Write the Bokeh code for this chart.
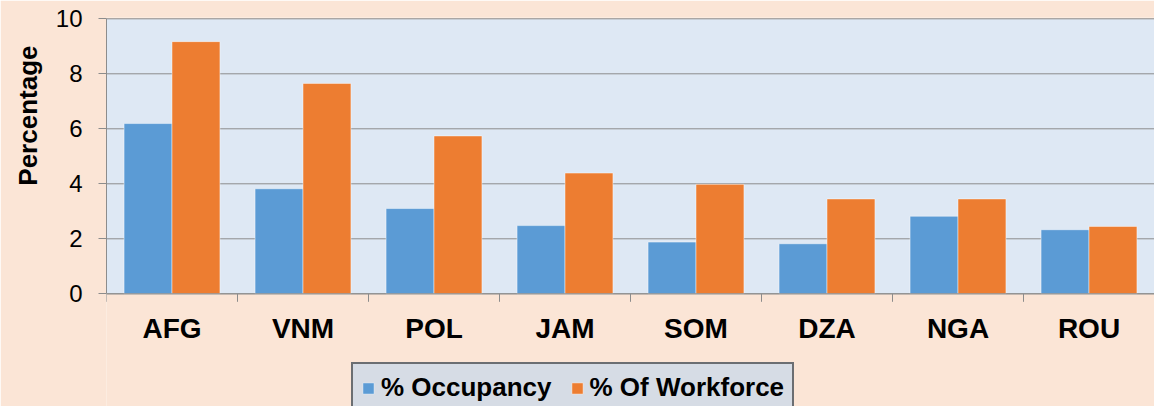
import math
from bokeh.plotting import figure
from bokeh.models import (Range1d, LinearAxis, FixedTicker, ColumnDataSource, Legend, LegendItem,
                          Span, Title)
from bokeh.transform import dodge
from bokeh.core.properties import value
from bokeh.embed import file_html
from bokeh.resources import INLINE

countries = ["AFG", "VNM", "POL", "JAM", "SOM", "DZA", "NGA", "ROU"]
occupancy = [6.19, 3.82, 3.10, 2.48, 1.88, 1.82, 2.82, 2.33]
workforce = [9.17, 7.65, 5.74, 4.39, 3.98, 3.45, 3.45, 2.45]
y_ticks = [0, 2, 4, 6, 8, 10]
series_names = ["% Occupancy", "% Of Workforce"]
y_label = "Percentage"

BG = "#FBE5D6"
PLOT_BG = "#DEE8F4"
BLUE = "#5B9BD5"
ORANGE = "#ED7D31"
GRAY = "#8C8C8C"
FONT = "Liberation Sans"

n = len(countries)
centers = [i + 0.5 for i in range(n)]
bounds = list(range(n + 1))
ymax = y_ticks[-1]
src = ColumnDataSource(dict(c=countries, x=centers, occ=occupancy, wf=workforce))

W, H = 1154, 406
FRAME_TOP = 17
Y0_PX, Y10_PX = 293.3, 18.3
ppu = (Y0_PX - Y10_PX) / ymax
y_start = -(H - Y0_PX) / ppu
y_end = ymax + (Y10_PX - FRAME_TOP) / ppu

p = figure(width=W, height=H, x_range=Range1d(0, n), y_range=Range1d(y_start, y_end),
           output_backend="svg", toolbar_location=None, x_axis_location=None,
           y_axis_location=None)
p.background_fill_color = BG
p.border_fill_color = BG
p.outline_line_color = None
p.min_border_left = 106
p.min_border_right = 0
p.min_border_top = FRAME_TOP
p.min_border_bottom = 0
p.xgrid.grid_line_color = None
p.ygrid.grid_line_color = None

# plot area background
p.quad(left=[0], right=[n], bottom=[0], top=[ymax], fill_color=PLOT_BG, line_color=None,
       level="image")

# horizontal gridlines
p.ray(x=[0] * len(y_ticks), y=y_ticks, length=0, angle=0, line_color=GRAY, line_width=1,
      level="underlay")

bw = 0.366
r1 = p.vbar(x=dodge("x", -bw / 2), top="occ", width=bw, source=src,
            fill_color=BLUE, line_color="white", line_alpha=0.45, line_width=1)
r2 = p.vbar(x=dodge("x", bw / 2), top="wf", width=bw, source=src,
            fill_color=ORANGE, line_color="white", line_alpha=0.45, line_width=1)

# y axis
yax = LinearAxis(ticker=FixedTicker(ticks=y_ticks), bounds=(0, ymax))
yax.axis_line_color = GRAY
yax.major_tick_line_color = GRAY
yax.major_tick_out = 8
yax.major_tick_in = 0
yax.minor_tick_line_color = None
yax.major_label_text_font = FONT
yax.major_label_text_font_size = "24px"
yax.major_label_text_color = "black"
yax.major_label_standoff = 16
p.add_layout(yax, "left")

ytitle = Title(text=y_label, align="right", offset=28, text_font=FONT, text_font_size="26px",
               text_font_style="bold", text_color="black", standoff=19)
p.add_layout(ytitle, "left")

# x axis line, boundary ticks and category labels
p.add_layout(Span(location=0, dimension="width", line_color=GRAY, line_width=1))
p.ray(x=bounds, y=[0] * len(bounds), length=8, length_units="screen", angle=-math.pi / 2,
      line_color=GRAY, line_width=1)
p.text(x=centers, y=[0] * n, text=countries, y_offset=19, text_align="center",
       text_baseline="top", text_font=value(FONT), text_font_size="28px",
       text_font_style="bold", text_color="black")

legend = Legend(items=[LegendItem(label=series_names[0], renderers=[r1]),
                       LegendItem(label=series_names[1], renderers=[r2])],
                orientation="horizontal", location=(245, -7))
legend.background_fill_color = "#D6DCE5"
legend.background_fill_alpha = 1
legend.border_line_color = "black"
legend.border_line_width = 2
legend.label_text_font = FONT
legend.label_text_font_size = "26px"
legend.label_text_font_style = "bold"
legend.label_text_color = "black"
legend.glyph_width = 14
legend.glyph_height = 14
legend.label_standoff = 6
legend.spacing = 18
legend.padding = 8
legend.margin = 0
legend.label_height = 30
p.add_layout(legend, "center")

open("out.html", "w").write(file_html(p, INLINE))
